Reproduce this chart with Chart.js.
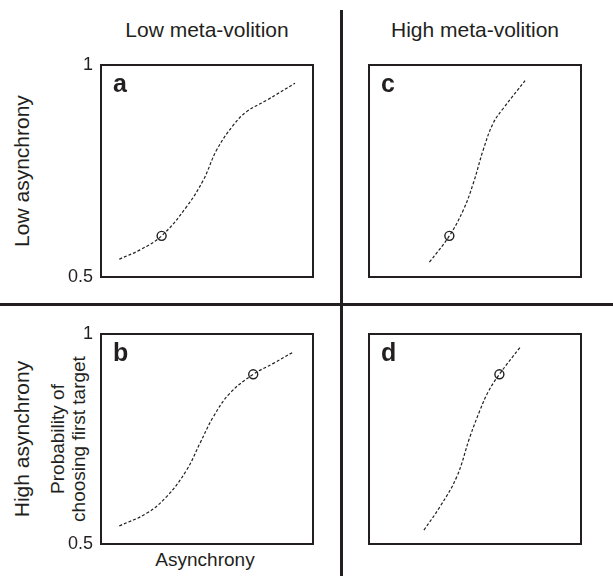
<!DOCTYPE html>
<html>
<head>
<meta charset="utf-8">
<script src="https://cdn.jsdelivr.net/npm/chart.js@4.4.0/dist/chart.umd.min.js"></script>
<style>
  body { margin: 0; background: #fff; }
  #page { position: relative; width: 613px; height: 576px; overflow: hidden;
          font-family: "Liberation Sans", Arial, Helvetica, sans-serif; color: #231f20; }
  canvas { position: absolute; }
  .lbl { position: absolute; white-space: nowrap; transform: translate(-50%, -50%); }
  .rot { transform: translate(-50%, -50%) rotate(-90deg); text-align: center; }
  .rule { position: absolute; background: #231f20; }
</style>
</head>
<body>
<div id="page">
  <div class="rule" style="left:340px;top:10px;width:3px;height:566px"></div>
  <div class="rule" style="left:0;top:303px;width:613px;height:3px"></div>

  <div class="lbl" style="left:207px;top:30px;font-size:21px">Low meta-volition</div>
  <div class="lbl" style="left:475px;top:30px;font-size:21px">High meta-volition</div>
  <div class="lbl rot" style="left:22px;top:171px;font-size:21px">Low asynchrony</div>
  <div class="lbl rot" style="left:22px;top:439px;font-size:21px">High asynchrony</div>
  <div class="lbl rot" style="left:68px;top:439px;font-size:19px;line-height:21px">Probability of<br>choosing first target</div>
  <div class="lbl" style="left:205px;top:560px;font-size:19px">Asynchrony</div>

  <canvas id="panelA" width="262" height="232" style="left:61px;top:55px"></canvas>
  <canvas id="panelB" width="262" height="230" style="left:61px;top:324px"></canvas>
  <canvas id="panelC" width="262" height="232" style="left:329px;top:55px"></canvas>
  <canvas id="panelD" width="262" height="230" style="left:329px;top:324px"></canvas>
</div>

<script>
// y axis ticks shown on the left panels
const yTicks = [0.5, 1];

// a: low meta-volition, low asynchrony
const asyncA = [0.086, 0.184, 0.286, 0.404, 0.483, 0.546, 0.624, 0.687, 0.782, 0.915];
const probA  = [0.542, 0.564, 0.597, 0.666, 0.729, 0.800, 0.858, 0.890, 0.917, 0.957];
const markA  = [0.286, 0.597];

// b: low meta-volition, high asynchrony
const asyncB = [0.086, 0.215, 0.310, 0.404, 0.467, 0.530, 0.608, 0.718, 0.813, 0.910];
const probB  = [0.543, 0.573, 0.613, 0.676, 0.740, 0.803, 0.859, 0.904, 0.930, 0.958];
const markB  = [0.718, 0.904];

// c: high meta-volition, low asynchrony
const asyncC = [0.285, 0.379, 0.445, 0.492, 0.539, 0.586, 0.634, 0.736];
const probC  = [0.535, 0.597, 0.658, 0.721, 0.800, 0.863, 0.898, 0.963];
const markC  = [0.379, 0.597];

// d: high meta-volition, high asynchrony
const asyncD = [0.259, 0.335, 0.414, 0.476, 0.524, 0.563, 0.615, 0.712];
const probD  = [0.533, 0.589, 0.660, 0.755, 0.819, 0.863, 0.904, 0.968];
const markD  = [0.615, 0.904];

const INK = '#231f20';
const FONT = '"Liberation Sans", Arial, Helvetica, sans-serif';

// frame round the plot area + panel letter
const panelBox = {
  id: 'panelBox',
  afterDraw(chart, args, opts) {
    const a = chart.chartArea, ctx = chart.ctx;
    ctx.save();
    ctx.strokeStyle = INK;
    ctx.lineWidth = 2;
    ctx.strokeRect(a.left, a.top, a.right - a.left, a.bottom - a.top);
    ctx.fillStyle = INK;
    ctx.font = 'bold 25px ' + FONT;
    ctx.fillText(opts.letter, a.left + 12, a.top + 27);
    ctx.restore();
  }
};

function makePanel(id, letter, xs, ys, mark, showTicks) {
  const pts = xs.map((x, i) => ({ x: x, y: ys[i] }));
  return new Chart(document.getElementById(id), {
    type: 'line',
    data: {
      datasets: [
        {
          data: pts,
          borderColor: INK,
          borderWidth: 1.2,
          borderDash: [3, 2],
          pointRadius: 0,
          tension: 0.4,
          fill: false
        },
        {
          data: [{ x: mark[0], y: mark[1] }],
          showLine: false,
          pointRadius: 4.5,
          pointBorderWidth: 1.4,
          pointBorderColor: INK,
          pointBackgroundColor: 'rgba(0,0,0,0)'
        }
      ]
    },
    options: {
      responsive: false,
      animation: false,
      events: [],
      layout: { padding: { top: 10, bottom: 10, left: 0, right: 10 } },
      plugins: {
        legend: { display: false },
        tooltip: { enabled: false },
        panelBox: { letter: letter }
      },
      scales: {
        x: { type: 'linear', min: 0, max: 1, display: false },
        y: {
          min: 0.5, max: 1,
          grid: { display: false, drawTicks: false },
          border: { display: false },
          afterFit: s => { s.width = 40; s.paddingTop = 0; s.paddingBottom = 0; },
          afterBuildTicks: s => { s.ticks = yTicks.map(v => ({ value: v })); },
          ticks: {
            display: showTicks, padding: 8, color: INK,
            font: { family: FONT, size: 18 },
            callback: v => String(v)
          }
        }
      }
    },
    plugins: [panelBox]
  });
}

makePanel('panelA', 'a', asyncA, probA, markA, true);
makePanel('panelB', 'b', asyncB, probB, markB, true);
makePanel('panelC', 'c', asyncC, probC, markC, false);
makePanel('panelD', 'd', asyncD, probD, markD, false);
</script>
</body>
</html>
